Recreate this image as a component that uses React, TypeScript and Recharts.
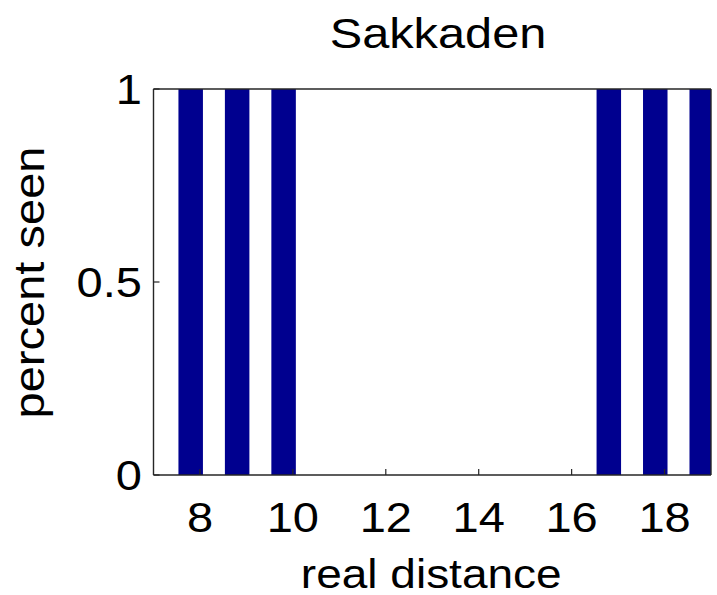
import React from 'react';
import { BarChart, Bar, XAxis, YAxis } from 'recharts';

// ---- data ----
const distances = [7.8, 8.8, 9.8, 10.8, 11.8, 12.8, 13.8, 14.8, 15.8, 16.8, 17.8, 18.8];
const percentSeen = [1, 1, 1, 0, 0, 0, 0, 0, 0, 1, 1, 1];
const xTicks = [8, 10, 12, 14, 16, 18];
const yTicks = [0, 0.5, 1];
const xDomain = [7, 19];
const yDomain = [0, 1];
const title = 'Sakkaden';
const xLabel = 'real distance';
const yLabel = 'percent seen';

const data = distances.map((d, i) => ({ distance: d, seen: percentSeen[i] }));

// ---- layout / style ----
const FONT = '"Liberation Sans", Arial, Helvetica, sans-serif';
const W = 717;
const H = 595;
const PLOT_LEFT = 153.5;
const PLOT_TOP = 89;
const PLOT_RIGHT = 711;
const PLOT_BOTTOM = 475;
const Y_AXIS_W = 60;
const X_AXIS_H = 30;
const TOP_AXIS_H = 10;
const RIGHT_AXIS_W = 6;
const AXIS_COLOR = '#262626';
const BAR_COLOR = '#00008f';
const TICK_FS = 42;
const STRETCH = 1.12;

const XTick = (props: any) => {
  const { x, y, payload } = props;
  return (
    <text
      transform={`translate(${x},${y + TICK_FS * 0.71}) scale(${STRETCH},1)`}
      textAnchor="middle"
      fontSize={TICK_FS}
      fontFamily={FONT}
      fill="#000"
    >
      {String(payload.value)}
    </text>
  );
};

const YTick = (props: any) => {
  const { x, y, payload } = props;
  return (
    <text
      transform={`translate(${x},${y + TICK_FS * 0.355}) scale(${STRETCH},1)`}
      textAnchor="end"
      fontSize={TICK_FS}
      fontFamily={FONT}
      fill="#000"
    >
      {String(payload.value)}
    </text>
  );
};

export default function App() {
  const plotCenterX = (PLOT_LEFT + PLOT_RIGHT) / 2;
  return (
    <div style={{ position: 'absolute', left: 0, top: 0, width: W, height: H, background: '#fff' }}>
      <BarChart
        width={W}
        height={H}
        data={data}
        margin={{
          top: PLOT_TOP - TOP_AXIS_H,
          left: PLOT_LEFT - Y_AXIS_W,
          right: W - PLOT_RIGHT - RIGHT_AXIS_W,
          bottom: H - PLOT_BOTTOM - X_AXIS_H,
        }}
      >
        <XAxis
          dataKey="distance"
          type="number"
          domain={xDomain}
          ticks={xTicks}
          allowDataOverflow
          height={X_AXIS_H}
          tickSize={-6}
          tickMargin={32.7}
          tick={<XTick />}
          axisLine={{ stroke: AXIS_COLOR, strokeWidth: 1.4 }}
          tickLine={{ stroke: AXIS_COLOR, strokeWidth: 1.2 }}
          interval={0}
        />
        <XAxis
          xAxisId="top"
          orientation="top"
          type="number"
          domain={xDomain}
          ticks={xTicks}
          allowDataOverflow
          height={TOP_AXIS_H}
          tickSize={-6}
          tick={false}
          axisLine={{ stroke: AXIS_COLOR, strokeWidth: 1.4 }}
          tickLine={{ stroke: AXIS_COLOR, strokeWidth: 1.2 }}
          interval={0}
        />
        <YAxis
          type="number"
          domain={yDomain}
          ticks={yTicks}
          allowDataOverflow
          width={Y_AXIS_W}
          tickSize={-6}
          tickMargin={17.5}
          tick={<YTick />}
          axisLine={{ stroke: AXIS_COLOR, strokeWidth: 1.4 }}
          tickLine={{ stroke: AXIS_COLOR, strokeWidth: 1.2 }}
          interval={0}
        />
        <YAxis
          yAxisId="right"
          orientation="right"
          type="number"
          domain={yDomain}
          ticks={yTicks}
          allowDataOverflow
          width={RIGHT_AXIS_W}
          tickSize={-6}
          tick={false}
          axisLine={{ stroke: AXIS_COLOR, strokeWidth: 1.4 }}
          tickLine={{ stroke: AXIS_COLOR, strokeWidth: 1.2 }}
          interval={0}
        />
        <Bar dataKey="seen" fill={BAR_COLOR} barSize={24.5} isAnimationActive={false} />
      </BarChart>
      <svg
        width={W}
        height={H}
        style={{ position: 'absolute', left: 0, top: 0, pointerEvents: 'none' }}
      >
        <text
          transform={`translate(438,48) scale(1.16,1)`}
          textAnchor="middle"
          fontSize={42}
          fontFamily={FONT}
          fill="#000"
        >
          {title}
        </text>
        <text
          transform={`translate(${plotCenterX - 1},588) scale(1.15,1)`}
          textAnchor="middle"
          fontSize={40}
          fontFamily={FONT}
          fill="#000"
        >
          {xLabel}
        </text>
        <text
          transform={`translate(44,282.5) rotate(-90) scale(1.12,1)`}
          textAnchor="middle"
          fontSize={42}
          fontFamily={FONT}
          fill="#000"
        >
          {yLabel}
        </text>
      </svg>
    </div>
  );
}
